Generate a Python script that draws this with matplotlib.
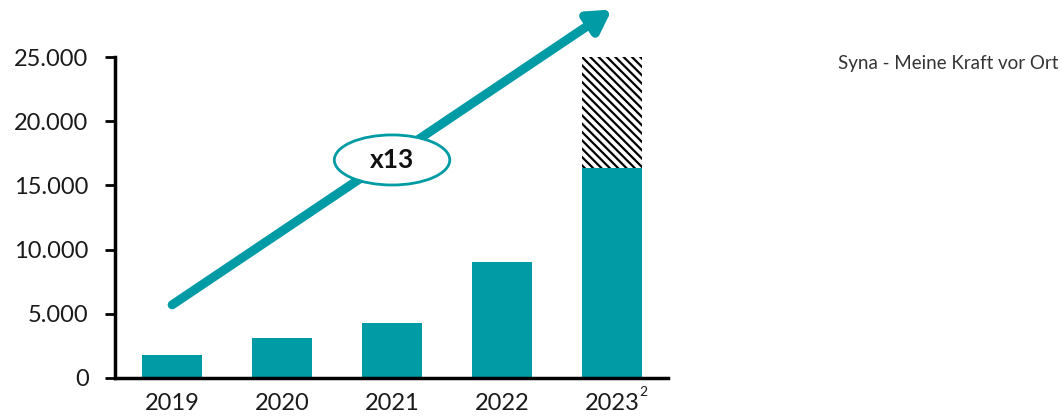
import matplotlib.pyplot as plt
from matplotlib.patches import Ellipse
import numpy as np

years = ['2019', '2020', '2021', '2022', '2023']
footnotes = ['', '', '', '', '2']
values = [1800, 3100, 4300, 9000, 16350]
forecast_top = 25000
y_ticks = [0, 5000, 10000, 15000, 20000, 25000]
y_tick_labels = ['0', '5.000', '10.000', '15.000', '20.000', '25.000']
growth_label = 'x13'
source_text = 'Syna - Meine Kraft vor Ort'

teal = '#009ba4'

plt.rcParams['font.family'] = ['Lato', 'DejaVu Sans']
plt.rcParams['hatch.linewidth'] = 1.6

fig = plt.figure(figsize=(10.64, 4.18), dpi=100)
ax = fig.add_axes([115 / 1064, 1 - 378 / 418, (668 - 115) / 1064, (378 - 57) / 418])

x = np.arange(len(years))
ax.bar(x, values, width=0.55, color=teal, zorder=2)
ax.bar(x[-1], forecast_top - values[-1], bottom=values[-1], width=0.55,
       color='white', edgecolor='black', linewidth=0, hatch='\\\\\\\\', zorder=1)

ax.set_xlim(-0.52, 4.51)
ax.set_ylim(0, 25000)
ax.set_xticks(x)
ax.set_xticklabels(years, fontsize=17, color='#1a1a1a')
ax.set_yticks(y_ticks)
ax.set_yticklabels(y_tick_labels, fontsize=17, color='#1a1a1a')
ax.tick_params(axis='x', length=0, pad=11)
ax.tick_params(axis='y', length=7, width=2, pad=12)

# superscript footnote markers next to the year labels
for xi, fn in zip(x, footnotes):
    if fn:
        ax.annotate(fn, xy=(xi, 0), xycoords='data', xytext=(20, -10),
                    textcoords='offset points', fontsize=10, color='#1a1a1a',
                    ha='left', va='center', annotation_clip=False)

for s in ['top', 'right']:
    ax.spines[s].set_visible(False)
ax.spines['left'].set_linewidth(2.5)
ax.spines['bottom'].set_linewidth(2.5)

# growth arrow
ax.annotate('', xy=(4.0, 28700), xytext=(0.0, 5700),
            arrowprops=dict(arrowstyle='-|>,head_length=1.3,head_width=0.75',
                            color=teal, lw=6.5, shrinkA=0, shrinkB=0),
            annotation_clip=False, zorder=3)

ax.add_patch(Ellipse((2.0, 16980), width=1.05, height=3900, facecolor='white',
                     edgecolor=teal, linewidth=2, zorder=4))
ax.text(2.0, 16980, growth_label, ha='center', va='center', fontsize=19,
        fontweight='bold', color='#111111', zorder=5)

fig.text(1058 / 1064, 1 - 64 / 418, source_text, ha='right', va='center',
         fontsize=13.5, color='#333333')

fig.savefig('out.png', dpi=100)
